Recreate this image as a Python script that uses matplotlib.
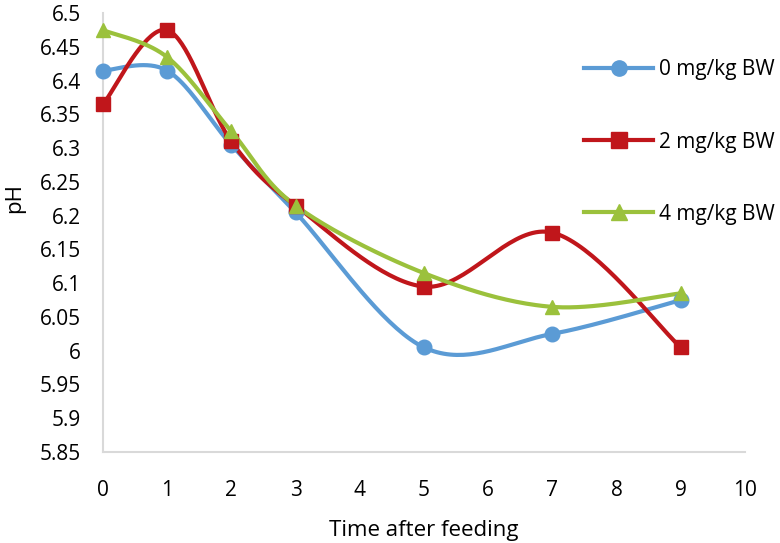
import numpy as np
import matplotlib
matplotlib.use("Agg")
import matplotlib.pyplot as plt
from matplotlib.ticker import FuncFormatter, MultipleLocator

# -------------------------------------------------
# Data
# -------------------------------------------------
TIME = [0, 1, 2, 3, 5, 7, 9]

PH_0 = [6.415, 6.415, 6.305, 6.205, 6.005, 6.025, 6.075]
PH_2 = [6.365, 6.475, 6.31, 6.215, 6.095, 6.175, 6.005]
PH_4 = [6.475, 6.435, 6.325, 6.215, 6.115, 6.065, 6.085]

LABELS = ["0 mg/kg BW", "2 mg/kg BW", "4 mg/kg BW"]
COLORS = ["#5B9BD5", "#C0161B", "#9BC13C"]
MARKERS = ["o", "s", "^"]


# -------------------------------------------------
# Excel-style smoothed line (Bezier through the points)
# -------------------------------------------------
def smooth(xs, ys, n=40):
    p = np.column_stack([xs, ys]).astype(float)
    ext = np.vstack([p[0], p, p[-1]])
    out = [p[0]]
    t = np.linspace(0, 1, n)[1:, None]
    for i in range(len(p) - 1):
        p0 = ext[i + 1]
        p3 = ext[i + 2]
        c1 = p0 + (ext[i + 2] - ext[i]) / 6
        c2 = p3 - (ext[i + 3] - ext[i + 1]) / 6
        seg = ((1 - t) ** 3) * p0 + 3 * ((1 - t) ** 2) * t * c1 \
            + 3 * (1 - t) * t ** 2 * c2 + t ** 3 * p3
        out.extend(seg)
    out = np.array(out)
    return out[:, 0], out[:, 1]


plt.rcParams["font.family"] = ["Open Sans", "DejaVu Sans"]

fig = plt.figure(figsize=(7.8, 5.43), dpi=100)
ax = fig.add_axes([0.132, 0.1676, 0.823, 0.808])

for ys, lab, col, mk in zip([PH_0, PH_2, PH_4], LABELS, COLORS, MARKERS):
    sx, sy = smooth(TIME, ys)
    ax.plot(sx, sy, color=col, lw=3, solid_capstyle="round", zorder=2)
    ax.plot(TIME, ys, linestyle="none", marker=mk, ms=10 if mk != "o" else 10.5,
            color=col, zorder=3, clip_on=False)
    ax.plot([], [], color=col, lw=3, marker=mk, ms=11, label=lab)

ax.set_xlim(0, 10)
ax.set_ylim(5.85, 6.5)
ax.xaxis.set_major_locator(MultipleLocator(1))
ax.yaxis.set_major_locator(MultipleLocator(0.05))
ax.yaxis.set_major_formatter(FuncFormatter(lambda v, p: f"{round(v, 3):g}"))

for s in ["top", "right"]:
    ax.spines[s].set_visible(False)
for s in ["left", "bottom"]:
    ax.spines[s].set_color("#D9D9D9")
    ax.spines[s].set_linewidth(1.5)

ax.tick_params(axis="both", length=0, labelsize=15, colors="#000000")
ax.tick_params(axis="x", pad=20)
ax.tick_params(axis="y", pad=16)

ax.set_xlabel("Time after feeding", fontsize=16, labelpad=14)
ax.set_ylabel("pH", fontsize=16)
ax.yaxis.set_label_coords(-0.122, 0.58)

fig.legend(loc="upper left", bbox_to_anchor=(0.725, 0.925), frameon=False,
           fontsize=15, handlelength=3.3, handletextpad=0.3, labelspacing=2.45)

plt.savefig("out.png", dpi=100)
